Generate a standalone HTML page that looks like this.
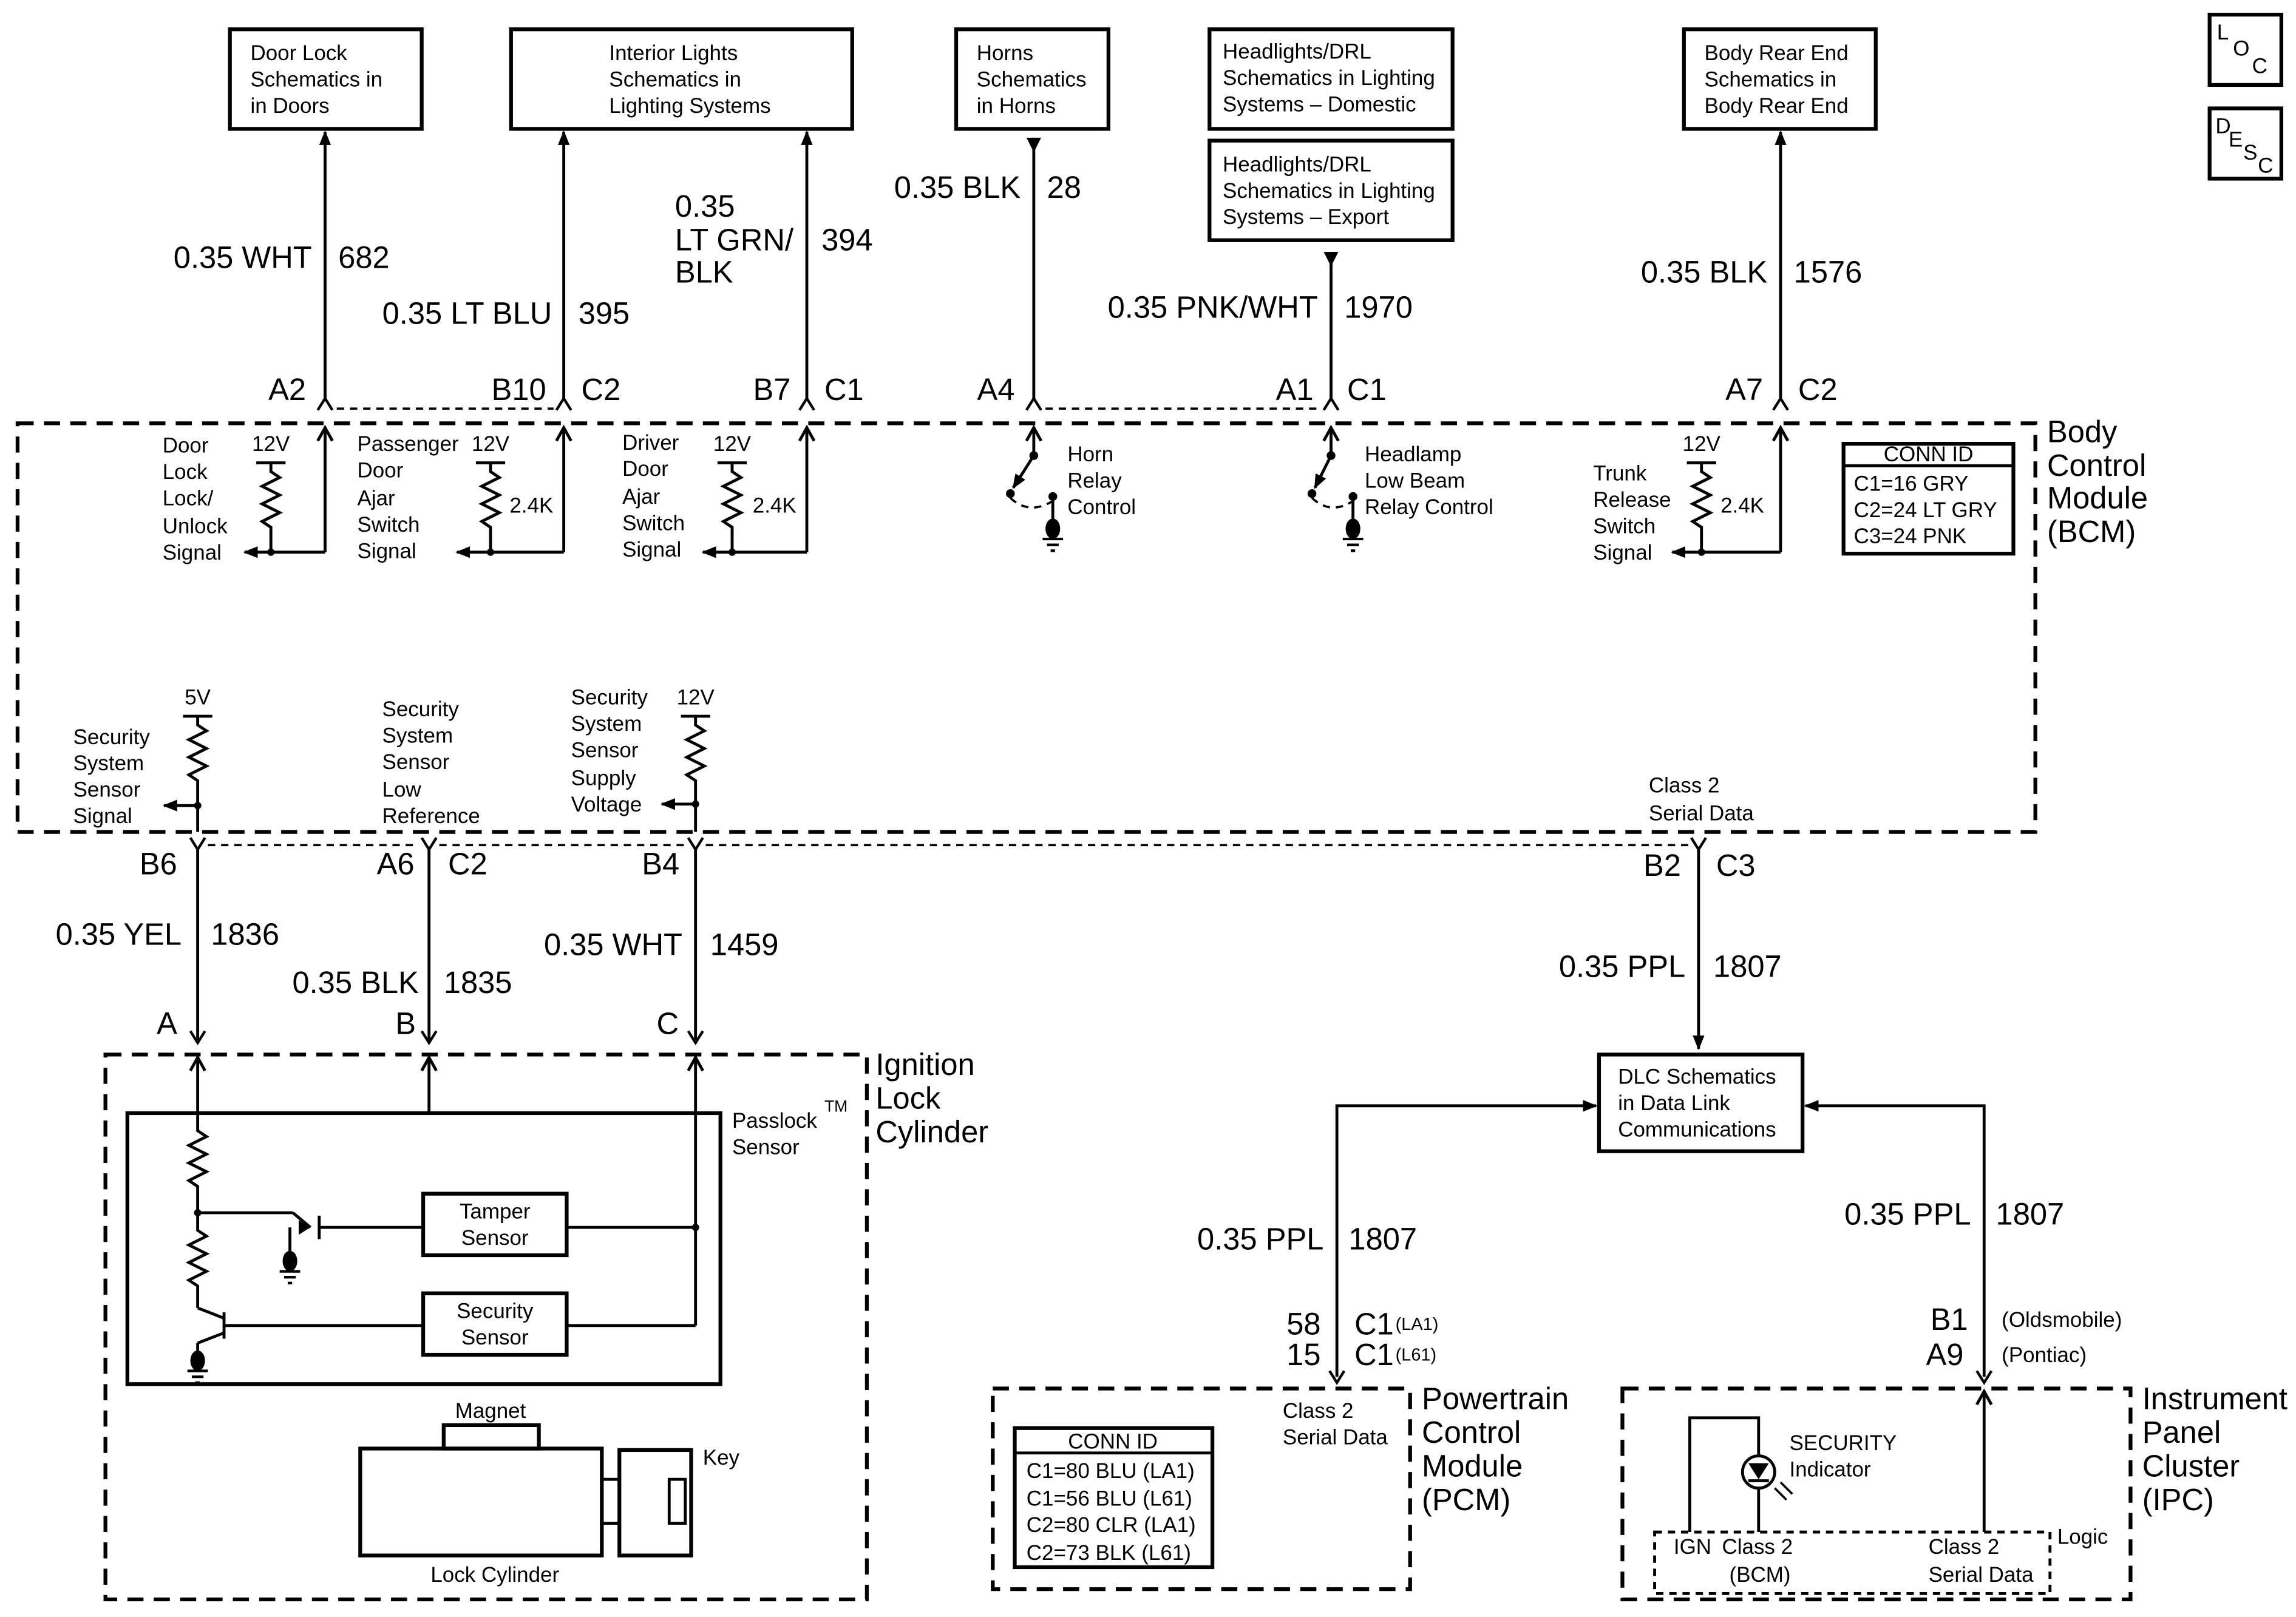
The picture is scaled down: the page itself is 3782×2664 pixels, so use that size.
<!DOCTYPE html>
<html><head><meta charset="utf-8"><style>
html,body{margin:0;padding:0;background:#fff;}
svg{display:block;}
text{font-family:"Liberation Sans",sans-serif;fill:#000;}
.s{font-size:14.5px;}
.m{font-size:21px;}
.w{fill:none;stroke:#000;stroke-width:2;}
.b{fill:none;stroke:#000;stroke-width:2.6;}
.d{fill:none;stroke:#000;stroke-width:2.6;stroke-dasharray:11,7;}
.dt{fill:none;stroke:#000;stroke-width:1.5;stroke-dasharray:5,4;}
</style></head><body>
<svg width="3782" height="2664" viewBox="0 0 1568 1104" preserveAspectRatio="none" xmlns="http://www.w3.org/2000/svg">
<defs>
<marker id="a" markerWidth="10" markerHeight="10" refX="9" refY="5" orient="auto" markerUnits="userSpaceOnUse"><path d="M0,1 L10,5 L0,9 Z" fill="#000"/></marker>
<g id="chev"><path d="M-5,8 L0,0 L5,8" fill="none" stroke="#000" stroke-width="1.8"/></g>
<g id="chevd"><path d="M-5,0 L0,8 L5,0" fill="none" stroke="#000" stroke-width="1.8"/></g>
<g id="oa"><path d="M-5,9 L0,0 L5,9" fill="none" stroke="#000" stroke-width="2"/></g>
<g id="gnd"><ellipse cx="0" cy="0" rx="5" ry="7" fill="#000"/><path d="M-7,7 H7 M-4,11 H4 M-1.5,15 H1.5" stroke="#000" stroke-width="1.8"/></g>
</defs>

<rect x="157" y="20" width="131" height="68" class="b"/>
<text class="s" x="171" y="41">Door Lock</text><text class="s" x="171" y="59">Schematics in</text><text class="s" x="171" y="77">in Doors</text>
<rect x="349" y="20" width="233" height="68" class="b"/>
<text class="s" x="416" y="41">Interior Lights</text><text class="s" x="416" y="59">Schematics in</text><text class="s" x="416" y="77">Lighting Systems</text>
<rect x="653" y="20" width="104" height="68" class="b"/>
<text class="s" x="667" y="41">Horns</text><text class="s" x="667" y="59">Schematics</text><text class="s" x="667" y="77">in Horns</text>
<rect x="826" y="20" width="166" height="68" class="b"/>
<text class="s" x="835" y="40">Headlights/DRL</text><text class="s" x="835" y="58">Schematics in Lighting</text><text class="s" x="835" y="76">Systems – Domestic</text>
<rect x="826" y="96" width="166" height="68" class="b"/>
<text class="s" x="835" y="117">Headlights/DRL</text><text class="s" x="835" y="135">Schematics in Lighting</text><text class="s" x="835" y="153">Systems – Export</text>
<rect x="1150" y="20" width="131" height="68" class="b"/>
<text class="s" x="1164" y="41">Body Rear End</text><text class="s" x="1164" y="59">Schematics in</text><text class="s" x="1164" y="77">Body Rear End</text>
<rect x="1509" y="10" width="49" height="48" class="b"/>
<text class="s" x="1514" y="27">L</text><text class="s" x="1525" y="38">O</text><text class="s" x="1538" y="50">C</text>
<rect x="1509" y="74" width="49" height="48" class="b"/>
<text class="s" x="1513" y="91">D</text><text class="s" x="1522" y="100">E</text><text class="s" x="1532" y="109">S</text><text class="s" x="1542" y="118">C</text>

<line x1="222" y1="272" x2="222" y2="90" class="w" marker-end="url(#a)"/>
<text class="m" x="213" y="183" text-anchor="end">0.35 WHT</text><text class="m" x="231" y="183">682</text>
<line x1="385" y1="272" x2="385" y2="90" class="w" marker-end="url(#a)"/>
<text class="m" x="377" y="221" text-anchor="end">0.35 LT BLU</text><text class="m" x="395" y="221">395</text>
<line x1="551" y1="272" x2="551" y2="90" class="w" marker-end="url(#a)"/>
<text class="m" x="461" y="148">0.35</text><text class="m" x="461" y="171">LT GRN/</text><text class="m" x="461" y="193">BLK</text><text class="m" x="561" y="171">394</text>
<line x1="706" y1="94" x2="706" y2="272" class="w"/><path d="M701,94 L711,94 L706,104 Z" fill="#000"/>
<text class="m" x="697" y="135" text-anchor="end">0.35 BLK</text><text class="m" x="715" y="135">28</text>
<line x1="909" y1="172" x2="909" y2="272" class="w"/><path d="M904,172 L914,172 L909,182 Z" fill="#000"/>
<text class="m" x="900" y="217" text-anchor="end">0.35 PNK/WHT</text><text class="m" x="918" y="217">1970</text>
<line x1="1216" y1="272" x2="1216" y2="90" class="w" marker-end="url(#a)"/>
<text class="m" x="1207" y="193" text-anchor="end">0.35 BLK</text><text class="m" x="1225" y="193">1576</text>

<use href="#chev" x="222" y="272"/><use href="#chev" x="385" y="272"/><use href="#chev" x="551" y="272"/>
<use href="#chev" x="706" y="272"/><use href="#chev" x="909" y="272"/><use href="#chev" x="1216" y="272"/>
<line x1="230" y1="279" x2="378" y2="279" class="dt"/><line x1="714" y1="279" x2="902" y2="279" class="dt"/>
<text class="m" x="209" y="273" text-anchor="end">A2</text>
<text class="m" x="373" y="273" text-anchor="end">B10</text><text class="m" x="397" y="273">C2</text>
<text class="m" x="540" y="273" text-anchor="end">B7</text><text class="m" x="563" y="273">C1</text>
<text class="m" x="693" y="273" text-anchor="end">A4</text>
<text class="m" x="897" y="273" text-anchor="end">A1</text><text class="m" x="920" y="273">C1</text>
<text class="m" x="1204" y="273" text-anchor="end">A7</text><text class="m" x="1228" y="273">C2</text>

<rect x="12" y="289" width="1378" height="279" class="d"/>
<text class="m" x="1398" y="302">Body</text><text class="m" x="1398" y="325">Control</text><text class="m" x="1398" y="347">Module</text><text class="m" x="1398" y="370">(BCM)</text>
<rect x="1259" y="303" width="116" height="75" class="b"/><line x1="1259" y1="318" x2="1375" y2="318" stroke="#000" stroke-width="2"/>
<text class="s" x="1317" y="315" text-anchor="middle">CONN ID</text>
<text class="s" x="1266" y="335">C1=16 GRY</text><text class="s" x="1266" y="353">C2=24 LT GRY</text><text class="s" x="1266" y="371">C3=24 PNK</text>

<use href="#oa" x="222" y="292"/><line x1="222" y1="292" x2="222" y2="377" class="w"/>
<text class="s" x="185" y="308" text-anchor="middle">12V</text><line x1="175" y1="316" x2="195" y2="316" class="w"/>
<path d="M185,316 V322 L191,326 L179,332 L191,338 L179,344 L191,350 L179,356 L185,360 V377" class="w"/>
<line x1="222" y1="377" x2="167" y2="377" class="w" marker-end="url(#a)"/><circle cx="185" cy="377" r="2.5"/>
<text class="s" x="111" y="309">Door</text><text class="s" x="111" y="327">Lock</text><text class="s" x="111" y="345">Lock/</text><text class="s" x="111" y="364">Unlock</text><text class="s" x="111" y="382">Signal</text>
<use href="#oa" x="385" y="292"/><line x1="385" y1="292" x2="385" y2="377" class="w"/>
<text class="s" x="335" y="308" text-anchor="middle">12V</text><line x1="325" y1="316" x2="345" y2="316" class="w"/>
<path d="M335,316 V322 L341,326 L329,332 L341,338 L329,344 L341,350 L329,356 L335,360 V377" class="w"/>
<line x1="385" y1="377" x2="312" y2="377" class="w" marker-end="url(#a)"/><circle cx="335" cy="377" r="2.5"/>
<text class="s" x="348" y="350">2.4K</text>
<text class="s" x="244" y="308">Passenger</text><text class="s" x="244" y="326">Door</text><text class="s" x="244" y="345">Ajar</text><text class="s" x="244" y="363">Switch</text><text class="s" x="244" y="381">Signal</text>
<use href="#oa" x="551" y="292"/><line x1="551" y1="292" x2="551" y2="377" class="w"/>
<text class="s" x="500" y="308" text-anchor="middle">12V</text><line x1="490" y1="316" x2="510" y2="316" class="w"/>
<path d="M500,316 V322 L506,326 L494,332 L506,338 L494,344 L506,350 L494,356 L500,360 V377" class="w"/>
<line x1="551" y1="377" x2="480" y2="377" class="w" marker-end="url(#a)"/><circle cx="500" cy="377" r="2.5"/>
<text class="s" x="514" y="350">2.4K</text>
<text class="s" x="425" y="307">Driver</text><text class="s" x="425" y="325">Door</text><text class="s" x="425" y="344">Ajar</text><text class="s" x="425" y="362">Switch</text><text class="s" x="425" y="380">Signal</text>
<use href="#oa" x="706" y="292"/><line x1="706" y1="292" x2="706" y2="310" class="w"/><circle cx="706" cy="311" r="3"/>
<line x1="706" y1="311" x2="692" y2="333" class="w" marker-end="url(#a)"/><circle cx="690" cy="337" r="3"/><circle cx="719" cy="339" r="3"/>
<path d="M690,340 Q703,352 719,342" class="dt"/><line x1="719" y1="339" x2="719" y2="356" class="w"/><use href="#gnd" x="719" y="361"/>
<text class="s" x="729" y="315">Horn</text><text class="s" x="729" y="333">Relay</text><text class="s" x="729" y="351">Control</text>
<use href="#oa" x="909" y="292"/><line x1="909" y1="292" x2="909" y2="310" class="w"/><circle cx="909" cy="311" r="3"/>
<line x1="909" y1="311" x2="898" y2="333" class="w" marker-end="url(#a)"/><circle cx="896" cy="337" r="3"/><circle cx="924" cy="339" r="3"/>
<path d="M896,340 Q909,352 924,342" class="dt"/><line x1="924" y1="339" x2="924" y2="356" class="w"/><use href="#gnd" x="924" y="361"/>
<text class="s" x="932" y="315">Headlamp</text><text class="s" x="932" y="333">Low Beam</text><text class="s" x="932" y="351">Relay Control</text>
<use href="#oa" x="1216" y="292"/><line x1="1216" y1="292" x2="1216" y2="377" class="w"/>
<text class="s" x="1162" y="308" text-anchor="middle">12V</text><line x1="1152" y1="316" x2="1172" y2="316" class="w"/>
<path d="M1162,316 V322 L1168,326 L1156,332 L1168,338 L1156,344 L1168,350 L1156,356 L1162,360 V377" class="w"/>
<line x1="1216" y1="377" x2="1142" y2="377" class="w" marker-end="url(#a)"/><circle cx="1162" cy="377" r="2.5"/>
<text class="s" x="1175" y="350">2.4K</text>
<text class="s" x="1088" y="328">Trunk</text><text class="s" x="1088" y="346">Release</text><text class="s" x="1088" y="364">Switch</text><text class="s" x="1088" y="382">Signal</text>

<text class="s" x="135" y="481" text-anchor="middle">5V</text><line x1="125" y1="489" x2="145" y2="489" class="w"/>
<path d="M135,489 V495 L141,499 L129,505 L141,511 L129,517 L141,523 L129,529 L135,533 V568" class="w"/>
<line x1="135" y1="550" x2="112" y2="550" class="w" marker-end="url(#a)"/><circle cx="135" cy="550" r="2.5"/>
<text class="s" x="50" y="508">Security</text><text class="s" x="50" y="526">System</text><text class="s" x="50" y="544">Sensor</text><text class="s" x="50" y="562">Signal</text>
<text class="s" x="261" y="489">Security</text><text class="s" x="261" y="507">System</text><text class="s" x="261" y="525">Sensor</text><text class="s" x="261" y="544">Low</text><text class="s" x="261" y="562">Reference</text>
<text class="s" x="475" y="481" text-anchor="middle">12V</text><line x1="465" y1="489" x2="485" y2="489" class="w"/>
<path d="M475,489 V495 L481,499 L469,505 L481,511 L469,517 L481,523 L469,529 L475,533 V568" class="w"/>
<line x1="475" y1="549" x2="452" y2="549" class="w" marker-end="url(#a)"/><circle cx="475" cy="549" r="2.5"/>
<text class="s" x="390" y="481">Security</text><text class="s" x="390" y="499">System</text><text class="s" x="390" y="517">Sensor</text><text class="s" x="390" y="536">Supply</text><text class="s" x="390" y="554">Voltage</text>
<text class="s" x="1126" y="541">Class 2</text><text class="s" x="1126" y="560">Serial Data</text>

<use href="#chevd" x="135" y="572"/><use href="#chevd" x="293" y="572"/><use href="#chevd" x="475" y="572"/><use href="#chevd" x="1160" y="572"/>
<line x1="142" y1="577" x2="286" y2="577" class="dt"/><line x1="300" y1="577" x2="468" y2="577" class="dt"/><line x1="482" y1="577" x2="1153" y2="577" class="dt"/>
<text class="m" x="121" y="597" text-anchor="end">B6</text>
<text class="m" x="283" y="597" text-anchor="end">A6</text><text class="m" x="306" y="597">C2</text>
<text class="m" x="464" y="597" text-anchor="end">B4</text>
<text class="m" x="1148" y="598" text-anchor="end">B2</text><text class="m" x="1172" y="598">C3</text>
<line x1="135" y1="580" x2="135" y2="710" class="w"/><line x1="293" y1="580" x2="293" y2="710" class="w"/><line x1="475" y1="580" x2="475" y2="710" class="w"/>
<line x1="1160" y1="580" x2="1160" y2="716" class="w" marker-end="url(#a)"/>
<text class="m" x="124" y="645" text-anchor="end">0.35 YEL</text><text class="m" x="144" y="645">1836</text>
<text class="m" x="286" y="678" text-anchor="end">0.35 BLK</text><text class="m" x="303" y="678">1835</text>
<text class="m" x="466" y="652" text-anchor="end">0.35 WHT</text><text class="m" x="485" y="652">1459</text>
<text class="m" x="1151" y="667" text-anchor="end">0.35 PPL</text><text class="m" x="1170" y="667">1807</text>
<text class="m" x="114" y="706" text-anchor="middle">A</text><text class="m" x="277" y="706" text-anchor="middle">B</text><text class="m" x="456" y="706" text-anchor="middle">C</text>
<use href="#chevd" x="135" y="704"/><use href="#chevd" x="293" y="704"/><use href="#chevd" x="475" y="704"/>

<rect x="72" y="720" width="520" height="372" class="d"/>
<text class="m" x="598" y="734">Ignition</text><text class="m" x="598" y="757">Lock</text><text class="m" x="598" y="780">Cylinder</text>
<use href="#oa" x="135" y="722"/><use href="#oa" x="293" y="722"/><use href="#oa" x="475" y="722"/>
<line x1="135" y1="722" x2="135" y2="760" class="w"/><line x1="293" y1="722" x2="293" y2="760" class="w"/><line x1="475" y1="722" x2="475" y2="760" class="w"/>
<rect x="87" y="760" width="405" height="185" class="b"/>
<text class="s" x="500" y="770">Passlock</text><text class="s" x="563" y="759" style="font-size:11px">TM</text><text class="s" x="500" y="788">Sensor</text>
<path d="M135,760 V772 L141,776 L129,782 L141,788 L129,794 L141,800 L129,806 L135,810 V840 L141,844 L129,850 L141,856 L129,862 L141,868 L129,874 L135,878 V893" class="w"/>
<circle cx="135" cy="828" r="2.5"/>
<line x1="135" y1="828" x2="200" y2="828" class="w"/>
<line x1="200" y1="828" x2="212" y2="838" class="w"/><path d="M212,838 L204,833 L204,843 Z" fill="#000"/>
<line x1="218" y1="830" x2="218" y2="846" class="w"/><line x1="198" y1="838" x2="198" y2="856" class="w"/><use href="#gnd" x="198" y="861"/>
<line x1="218" y1="838" x2="289" y2="838" class="w"/>
<rect x="289" y="815" width="98" height="42" class="b"/><text class="s" x="338" y="832" text-anchor="middle">Tamper</text><text class="s" x="338" y="850" text-anchor="middle">Sensor</text>
<line x1="387" y1="838" x2="475" y2="838" class="w"/><circle cx="475" cy="838" r="2.5"/>
<line x1="475" y1="760" x2="475" y2="905" class="w"/>
<line x1="153" y1="896" x2="153" y2="914" class="w"/>
<line x1="135" y1="893" x2="153" y2="900" class="w"/><line x1="153" y1="910" x2="135" y2="917" class="w"/>
<line x1="135" y1="917" x2="135" y2="925" class="w"/><use href="#gnd" x="135" y="929"/>
<line x1="153" y1="905" x2="289" y2="905" class="w"/>
<rect x="289" y="883" width="98" height="42" class="b"/><text class="s" x="338" y="900" text-anchor="middle">Security</text><text class="s" x="338" y="918" text-anchor="middle">Sensor</text>
<line x1="387" y1="905" x2="475" y2="905" class="w"/>
<rect x="303" y="973" width="65" height="16" class="b"/><text class="s" x="335" y="968" text-anchor="middle">Magnet</text>
<rect x="246" y="989" width="165" height="73" class="b"/>
<line x1="411" y1="1010" x2="423" y2="1010" class="w"/><line x1="411" y1="1040" x2="423" y2="1040" class="w"/>
<rect x="423" y="990" width="49" height="72" class="b"/><rect x="457" y="1010" width="11" height="30" class="w"/>
<text class="s" x="480" y="1000">Key</text><text class="s" x="338" y="1080" text-anchor="middle">Lock Cylinder</text>

<rect x="1092" y="720" width="139" height="66" class="b"/>
<text class="s" x="1105" y="740">DLC Schematics</text><text class="s" x="1105" y="758">in Data Link</text><text class="s" x="1105" y="776">Communications</text>
<path d="M913,940 V755 H1090" class="w" marker-end="url(#a)"/>
<path d="M1355,940 V755 H1233" class="w" marker-end="url(#a)"/>
<text class="m" x="904" y="853" text-anchor="end">0.35 PPL</text><text class="m" x="921" y="853">1807</text>
<text class="m" x="1346" y="836" text-anchor="end">0.35 PPL</text><text class="m" x="1363" y="836">1807</text>
<text class="m" x="902" y="911" text-anchor="end">58</text><text class="m" x="902" y="932" text-anchor="end">15</text>
<text class="m" x="925" y="911">C1</text><text class="s" x="953" y="908" style="font-size:12px">(LA1)</text>
<text class="m" x="925" y="932">C1</text><text class="s" x="953" y="929" style="font-size:12px">(L61)</text>
<text class="m" x="1344" y="908" text-anchor="end">B1</text><text class="m" x="1341" y="932" text-anchor="end">A9</text>
<text class="s" x="1367" y="906">(Oldsmobile)</text><text class="s" x="1367" y="930">(Pontiac)</text>
<use href="#chevd" x="913" y="936"/><use href="#chevd" x="1355" y="936"/>

<rect x="678" y="948" width="285" height="137" class="d"/>
<text class="m" x="971" y="962">Powertrain</text><text class="m" x="971" y="985">Control</text><text class="m" x="971" y="1008">Module</text><text class="m" x="971" y="1031">(PCM)</text>
<text class="s" x="876" y="968">Class 2</text><text class="s" x="876" y="986">Serial Data</text>
<rect x="693" y="975" width="135" height="95" class="b"/><line x1="693" y1="992" x2="828" y2="992" stroke="#000" stroke-width="2"/>
<text class="s" x="760" y="989" text-anchor="middle">CONN ID</text>
<text class="s" x="701" y="1009">C1=80 BLU (LA1)</text><text class="s" x="701" y="1028">C1=56 BLU (L61)</text><text class="s" x="701" y="1046">C2=80 CLR (LA1)</text><text class="s" x="701" y="1065">C2=73 BLK (L61)</text>

<rect x="1108" y="948" width="347" height="144" class="d"/>
<text class="m" x="1463" y="962">Instrument</text><text class="m" x="1463" y="985">Panel</text><text class="m" x="1463" y="1008">Cluster</text><text class="m" x="1463" y="1031">(IPC)</text>
<use href="#oa" x="1355" y="950"/><line x1="1355" y1="950" x2="1355" y2="1046" class="w"/>
<rect x="1130" y="1046" width="270" height="42" class="dt" style="stroke-width:2"/>
<text class="s" x="1405" y="1054">Logic</text>
<text class="s" x="1143" y="1061">IGN</text><text class="s" x="1176" y="1061">Class 2</text><text class="s" x="1181" y="1080">(BCM)</text>
<text class="s" x="1317" y="1061">Class 2</text><text class="s" x="1317" y="1080">Serial Data</text>
<path d="M1154,1046 V968 H1201 V994" class="w"/><path d="M1201,1016 V1046" class="w"/>
<circle cx="1201" cy="1005" r="11" class="w"/>
<path d="M1194,999 L1208,999 L1201,1010 Z" fill="#000"/><line x1="1194" y1="1011" x2="1208" y2="1011" class="w"/>
<line x1="1212" y1="1016" x2="1220" y2="1024" stroke="#000" stroke-width="1.5"/><line x1="1216" y1="1012" x2="1224" y2="1020" stroke="#000" stroke-width="1.5"/>
<text class="s" x="1222" y="990">SECURITY</text><text class="s" x="1222" y="1008">Indicator</text>
</svg>
</body></html>
